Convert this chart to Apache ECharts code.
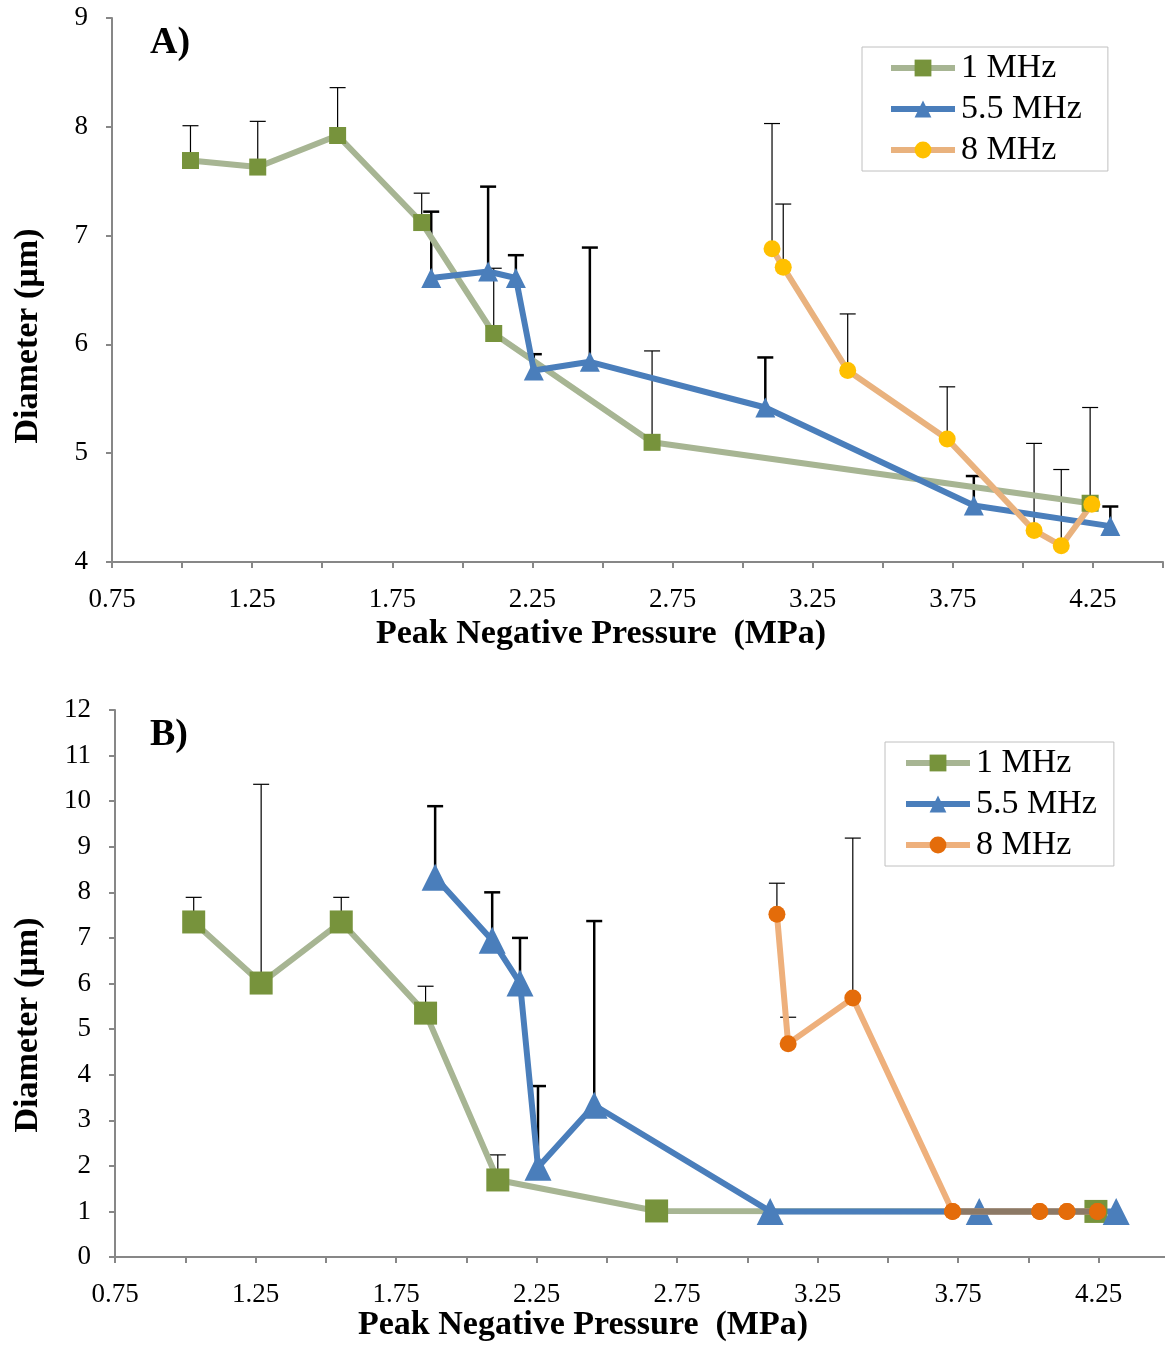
<!DOCTYPE html>
<html>
<head>
<meta charset="utf-8">
<script src="https://cdn.jsdelivr.net/npm/echarts@6/dist/echarts.min.js"></script>
<style>
html,body{margin:0;padding:0;background:#fff;overflow:hidden;}
#a{position:absolute;left:0;top:0;width:1165px;height:672px;}
#b{position:absolute;left:0;top:672px;width:1165px;height:673px;}
</style>
</head>
<body>
<div id="a"></div>
<div id="b"></div>
<script>
// ---- data ----
var seriesNames = ['1 MHz', '5.5 MHz', '8 MHz'];
var xTicks = [0.75, 1.25, 1.75, 2.25, 2.75, 3.25, 3.75, 4.25];
var xTitle = 'Peak Negative Pressure  (MPa)';
var yTitle = 'Diameter (µm)';

// pressures (MPa)
var x1 = [1.03, 1.27, 1.555, 1.855, 2.112, 2.677, 4.24];
var x55 = [1.889, 2.092, 2.191, 2.255, 2.455, 3.081, 3.825, 4.312];
var x8 = [3.105, 3.145, 3.375, 3.73, 4.04, 4.137, 4.246];

// panel A diameters and upper error
var a1 = [7.69, 7.63, 7.92, 7.12, 6.10, 5.10, 4.54];
var a1Err = [0.32, 0.42, 0.44, 0.27, 0.60, 0.84, 0.88];
var a55 = [6.61, 6.67, 6.61, 5.76, 5.84, 5.42, 4.52, 4.33];
var a55Err = [0.61, 0.78, 0.21, 0.15, 1.05, 0.46, 0.27, 0.18];
var a8 = [6.88, 6.71, 5.76, 5.13, 4.29, 4.15, 4.53];
var a8Err = [1.15, 0.58, 0.52, 0.48, 0.80, 0.70, 0];

// panel B diameters and upper error
var b1 = [7.35, 6.01, 7.35, 5.35, 1.69, 1.01, 1.0];
var b1Err = [0.54, 4.36, 0.54, 0.59, 0.55, 0, 0];
var b55 = [8.33, 6.95, 6.01, 1.97, 3.33, 1.0, 1.0, 1.0];
var b55Err = [1.56, 1.05, 0.99, 1.78, 4.04, 0, 0, 0];
var b8 = [7.52, 4.68, 5.68, 1.0, 1.0, 1.0, 1.0];
var b8Err = [0.68, 0.58, 3.51, 0, 0, 0, 0];

// ---- helpers ----
var FONT = '"Liberation Serif", "Times New Roman", serif';
function pairs(xs, ys) { return xs.map(function (v, i) { return [v, ys[i]]; }); }
function errData(xs, ys, es) { return xs.map(function (v, i) { return [v, ys[i], ys[i] + es[i]]; }); }
function errSeries(xs, ys, es, lw) {
  return {
    type: 'custom', z: 1, silent: true,
    data: errData(xs, ys, es),
    renderItem: function (params, api) {
      if (api.value(2) - api.value(1) <= 0) return null;
      var lo = api.coord([api.value(0), api.value(1)]);
      var hi = api.coord([api.value(0), api.value(2)]);
      var st = { stroke: '#000', lineWidth: lw };
      return {
        type: 'group', children: [
          { type: 'line', shape: { x1: lo[0], y1: lo[1], x2: hi[0], y2: hi[1] }, style: st },
          { type: 'line', shape: { x1: hi[0] - 8, y1: hi[1], x2: hi[0] + 8, y2: hi[1] }, style: st }
        ]
      };
    }
  };
}
function lineSeries(name, data, lineColor, markColor, symbol, size, z) {
  return {
    name: name, type: 'line', data: data, z: z || 3,
    symbol: symbol, symbolSize: size, showAllSymbol: true,
    lineStyle: { color: lineColor, width: 6 },
    itemStyle: { color: markColor },
    emphasis: { disabled: true }
  };
}
function xAxis() {
  return {
    type: 'value', min: 0.75, max: 4.5, interval: 0.25,
    axisLine: { lineStyle: { color: '#878787', width: 2 } },
    axisTick: { length: 6, lineStyle: { color: '#878787', width: 2 } },
    splitLine: { show: false },
    axisLabel: {
      fontFamily: FONT, fontSize: 27, color: '#000', margin: 24,
      formatter: function (v) {
        var r = Math.round(v * 100) / 100;
        return xTicks.indexOf(r) >= 0 ? r.toFixed(2) : '';
      }
    }
  };
}
function yAxis(min, max) {
  return {
    type: 'value', min: min, max: max, interval: 1,
    axisLine: { show: true, lineStyle: { color: '#878787', width: 2 } },
    axisTick: { show: true, length: 6, lineStyle: { color: '#878787', width: 2 } },
    splitLine: { show: false },
    axisLabel: { fontFamily: FONT, fontSize: 27, color: '#000', margin: 24 }
  };
}
function legend(left, top, pad) {
  return {
    orient: 'vertical', left: left, top: top, padding: pad,
    itemWidth: 64, itemHeight: 21, itemGap: 7,
    borderColor: '#c0c0c0', borderWidth: 1, borderRadius: 0,
    selectedMode: false,
    lineStyle: { width: 6 },
    textStyle: { fontFamily: FONT, fontSize: 34, lineHeight: 34, color: '#000', padding: [0, 0, 0, 1] },
    data: seriesNames
  };
}
function titles(label, labelTop, xCx, xCy, yCx, yCy) {
  var bold = { fontFamily: FONT, fontWeight: 'bold', fill: '#000' };
  return [
    { type: 'text', left: 150, top: labelTop, style: Object.assign({ text: label, fontSize: 38 }, bold) },
    { type: 'text', x: xCx, y: xCy, style: Object.assign({ text: xTitle, fontSize: 34, align: 'center', verticalAlign: 'middle' }, bold) },
    { type: 'text', x: yCx, y: yCy, rotation: Math.PI / 2, style: Object.assign({ text: yTitle, fontSize: 34, align: 'center', verticalAlign: 'middle' }, bold) }
  ];
}

// ---- chart A ----
var chA = echarts.init(document.getElementById('a'), null, { renderer: 'canvas' });
chA.setOption({
  animation: false,
  grid: { left: 112, top: 18, width: 1051, height: 544, outerBoundsMode: 'none', containLabel: false },
  xAxis: xAxis(),
  yAxis: yAxis(4, 9),
  legend: legend(862, 47, [4, 26, 4, 26]),
  graphic: titles('A)', 24, 601, 634, 28, 336),
  series: [
    errSeries(x1, a1, a1Err, 1.2),
    errSeries(x55, a55, a55Err, 2.5),
    errSeries(x8, a8, a8Err, 1.2),
    lineSeries(seriesNames[0], pairs(x1, a1), '#a7b593', '#77933c', 'rect', 17),
    lineSeries(seriesNames[1], pairs(x55, a55), '#4a7ebb', '#4a7ebb', 'triangle', 20),
    lineSeries(seriesNames[2], pairs(x8, a8), '#e9b27e', '#ffc000', 'circle', 17)
  ]
});

// ---- chart B ----
var chB = echarts.init(document.getElementById('b'), null, { renderer: 'canvas' });
var overlapStart = 3; // index in x8 where 8 MHz runs along the 1 µm floor
chB.setOption({
  animation: false,
  grid: { left: 115, top: 38, width: 1054, height: 547, outerBoundsMode: 'none', containLabel: false },
  xAxis: xAxis(),
  yAxis: yAxis(0, 12),
  legend: legend(885, 70, [4, 17, 4, 18]),
  graphic: titles('B)', 44, 583, 653, 28, 353),
  series: [
    errSeries(x1, b1, b1Err, 1.2),
    errSeries(x55, b55, b55Err, 2.5),
    errSeries(x8, b8, b8Err, 1.2),
    lineSeries(seriesNames[0], pairs(x1, b1), '#a7b593', '#77933c', 'rect', 23),
    lineSeries(seriesNames[1], pairs(x55, b55), '#4a7ebb', '#4a7ebb', 'triangle', 27),
    lineSeries(seriesNames[2], pairs(x8, b8), '#eeb07c', '#e46c0a', 'circle', 17, 4),
    {
      type: 'line', z: 4, silent: true, symbol: 'none',
      data: pairs(x8.slice(overlapStart), b8.slice(overlapStart)),
      lineStyle: { color: '#8c7966', width: 6 }
    },
    {
      type: 'line', z: 5, silent: true, symbol: 'circle', symbolSize: 17,
      data: pairs(x8.slice(overlapStart), b8.slice(overlapStart)),
      lineStyle: { width: 0, opacity: 0 }, itemStyle: { color: '#e46c0a' }
    }
  ]
});
</script>
</body>
</html>
